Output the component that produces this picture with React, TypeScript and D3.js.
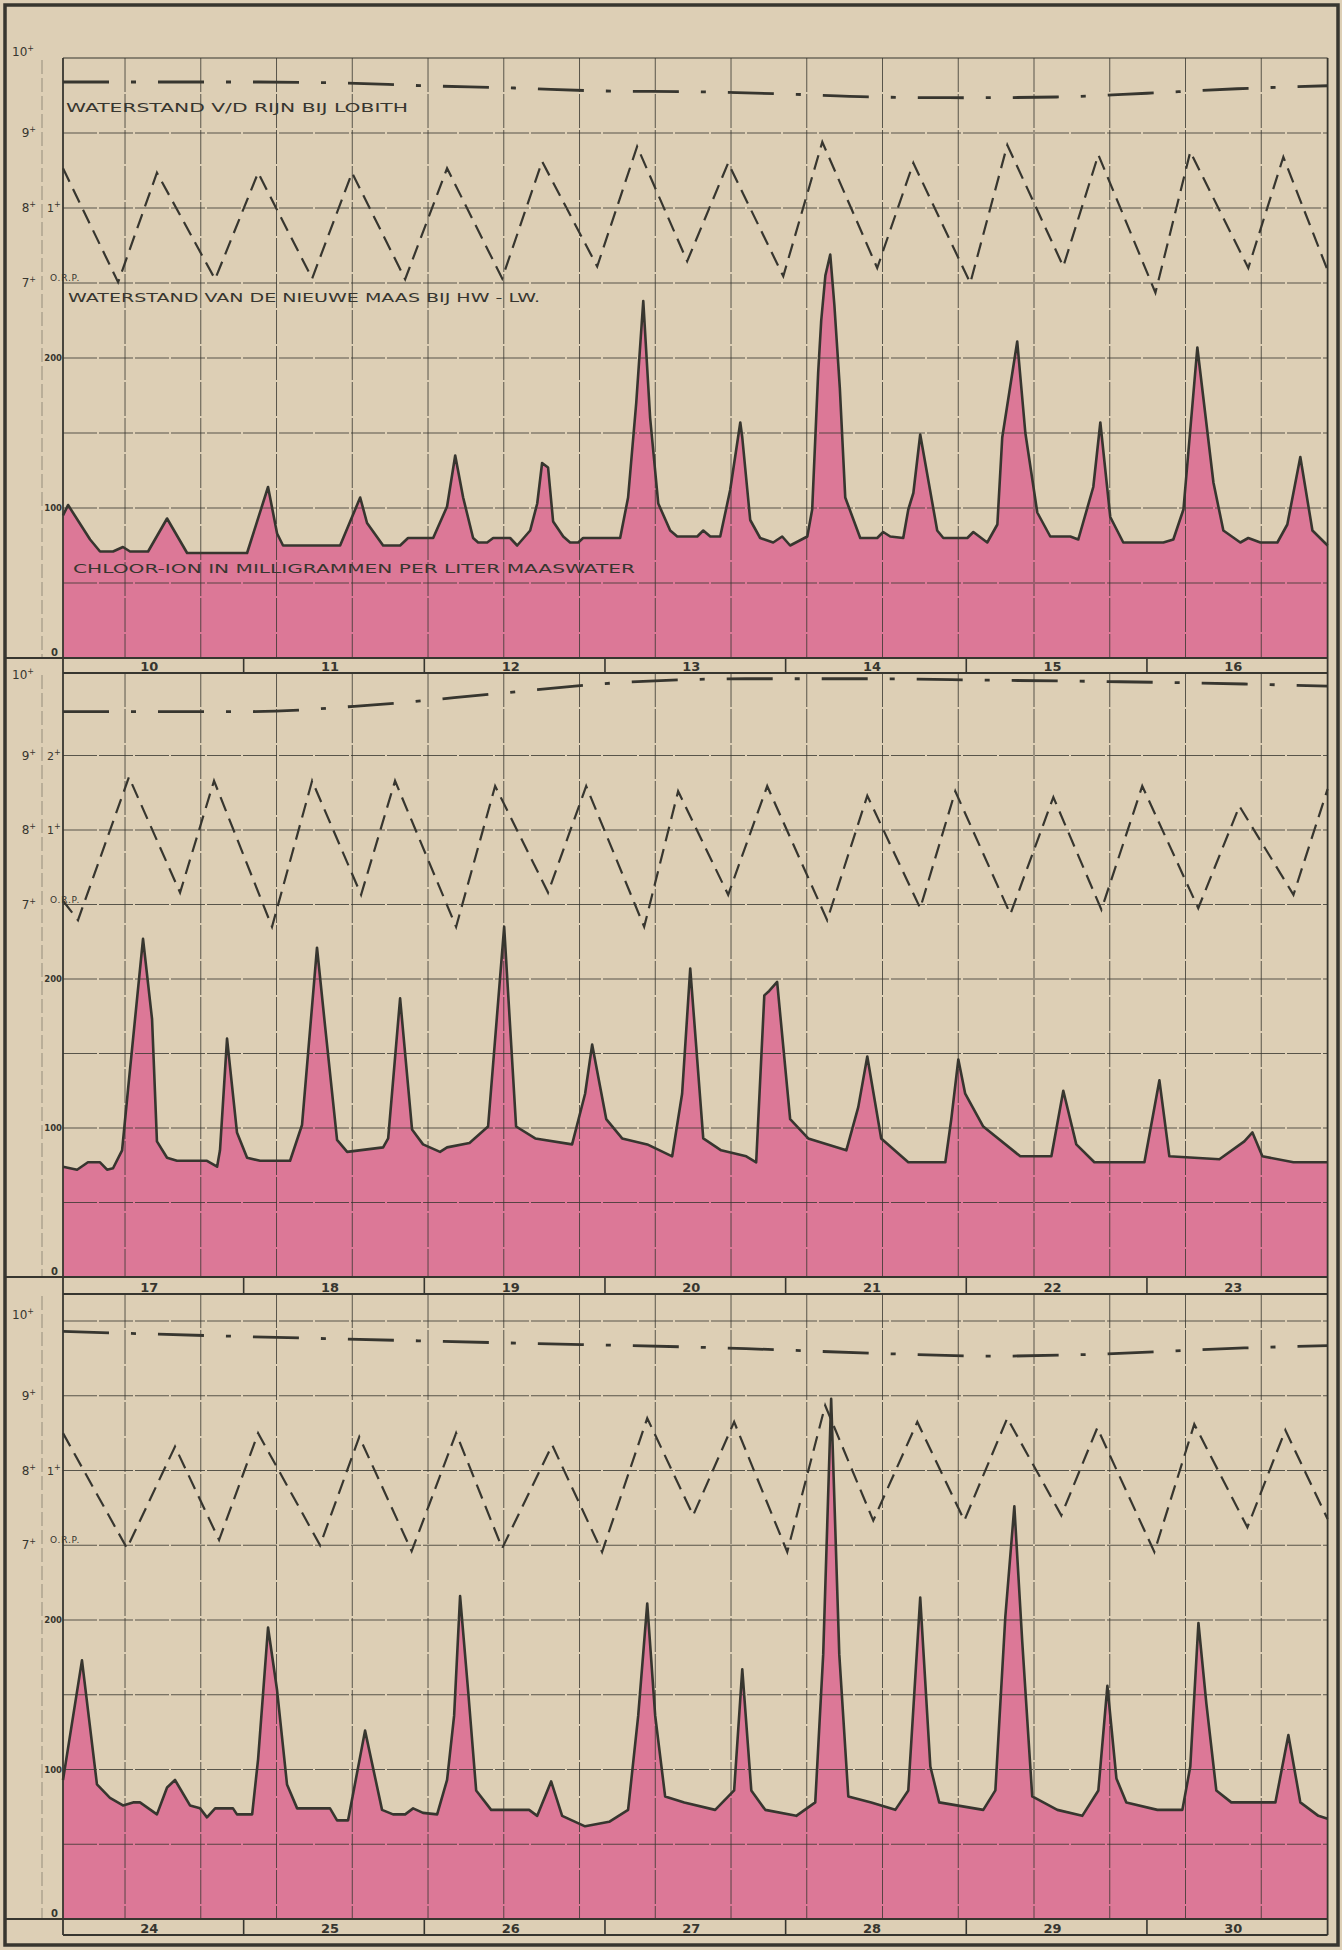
import React from "react";
import * as d3 from "d3";

// ---------- DATA (t = days from start of each panel row) ----------
const startDays = [10, 17, 24];
const chlorTicks = [0, 100, 200];
const levelTicks = [10, 9, 8, 7];
const tideTicks = [[1, 0], [2, 1, 0], [1, 0]];

// Waterstand Rijn bij Lobith (m)
const lobith1: [number, number][] = [[0,9.68],[0.5,9.68],[1,9.68],[1.5,9.67],[2,9.63],[2.5,9.6],[3,9.56],[3.5,9.55],[4,9.52],[4.5,9.48],[5,9.47],[5.5,9.48],[6,9.53],[6.5,9.59],[7,9.63]];
const lobith2: [number, number][] = [[0,9.59],[1.03,9.59],[1.72,9.68],[2.4,9.83],[3.09,9.98],[3.78,10.03],[4.47,10.03],[5.16,10.01],[5.85,9.99],[6.54,9.96],[7,9.93]];
const lobith3: [number, number][] = [[0,9.86],[1.03,9.79],[2.4,9.71],[3.78,9.63],[4.47,9.57],[5.16,9.53],[5.64,9.55],[6.54,9.64],[7,9.67]];

// Waterstand Nieuwe Maas HW-LW (m t.o.v. R.P.)
const tide1: [number, number][] = [[0,1.53],[0.305,0.01],[0.52,1.47],[0.842,0.05],[1.08,1.47],[1.379,0.06],[1.6,1.47],[1.894,0.05],[2.126,1.53],[2.431,0.06],[2.652,1.62],[2.957,0.22],[3.178,1.82],[3.455,0.29],[3.682,1.6],[3.987,0.09],[4.203,1.88],[4.507,0.2],[4.707,1.6],[5.022,0.0],[5.227,1.84],[5.537,0.22],[5.731,1.71],[6.047,-0.13],[6.24,1.75],[6.561,0.2],[6.755,1.68],[7,0.17]];
const tide2: [number, number][] = [[0,0.05],[0.083,-0.21],[0.365,1.71],[0.648,0.16],[0.836,1.66],[1.157,-0.3],[1.379,1.66],[1.65,0.13],[1.838,1.66],[2.176,-0.3],[2.392,1.59],[2.685,0.16],[2.896,1.59],[3.217,-0.3],[3.405,1.52],[3.682,0.13],[3.898,1.59],[4.23,-0.21],[4.452,1.46],[4.745,-0.05],[4.939,1.52],[5.244,-0.13],[5.482,1.44],[5.748,-0.07],[5.974,1.59],[6.284,-0.05],[6.512,1.32],[6.811,0.13],[7,1.55]];
const tide3: [number, number][] = [[0,1.5],[0.354,-0.04],[0.62,1.32],[0.864,0.07],[1.08,1.5],[1.423,0.0],[1.64,1.45],[1.93,-0.08],[2.176,1.5],[2.431,-0.04],[2.708,1.34],[2.984,-0.09],[3.234,1.7],[3.488,0.4],[3.715,1.65],[4.009,-0.09],[4.219,1.87],[4.485,0.33],[4.729,1.65],[4.989,0.33],[5.227,1.7],[5.526,0.4],[5.725,1.57],[6.041,-0.09],[6.262,1.62],[6.556,0.24],[6.766,1.54],[7,0.35]];

// Chloor-ion in mg per liter Maaswater
const chlor1: [number, number][] = [[0,95],[0.028,102],[0.15,79],[0.205,71],[0.277,71],[0.332,74],[0.371,71],[0.471,71],[0.576,93],[0.687,70],[1.019,70],[1.135,114],[1.185,83],[1.218,75],[1.534,75],[1.645,107],[1.683,90],[1.772,75],[1.866,75],[1.91,80],[2.049,80],[2.126,101],[2.171,135],[2.215,107],[2.27,80],[2.298,77],[2.348,77],[2.381,80],[2.475,80],[2.514,75],[2.586,85],[2.625,103],[2.652,130],[2.685,127],[2.713,91],[2.769,81],[2.807,77],[2.852,77],[2.879,80],[3.084,80],[3.128,107],[3.173,170],[3.212,238],[3.25,160],[3.295,103],[3.361,85],[3.4,81],[3.511,81],[3.544,85],[3.583,81],[3.638,81],[3.693,112],[3.749,157],[3.76,147],[3.804,92],[3.859,80],[3.931,77],[3.981,81],[4.025,75],[4.12,81],[4.147,99],[4.18,190],[4.197,225],[4.22,255],[4.247,269],[4.27,235],[4.3,180],[4.33,107],[4.413,80],[4.507,80],[4.54,84],[4.579,81],[4.651,80],[4.679,99],[4.707,110],[4.745,149],[4.839,85],[4.873,80],[5.006,80],[5.039,84],[5.116,77],[5.172,89],[5.199,147],[5.282,211],[5.327,150],[5.393,97],[5.465,81],[5.576,81],[5.62,79],[5.703,114],[5.742,157],[5.797,94],[5.869,77],[6.091,77],[6.146,79],[6.202,99],[6.279,207],[6.368,117],[6.423,85],[6.517,77],[6.561,80],[6.628,77],[6.722,77],[6.777,89],[6.849,134],[6.916,85],[7,75]];
const chlor2: [number, number][] = [[0,74],[0.078,72],[0.138,77],[0.205,77],[0.244,72],[0.277,73],[0.327,85],[0.36,126],[0.443,227],[0.493,173],[0.52,91],[0.576,80],[0.631,78],[0.797,78],[0.853,74],[0.869,85],[0.908,160],[0.963,97],[1.019,80],[1.091,78],[1.257,78],[1.323,102],[1.406,221],[1.451,168],[1.517,92],[1.573,84],[1.772,87],[1.8,93],[1.866,187],[1.932,99],[1.993,89],[2.087,84],[2.126,87],[2.25,90],[2.353,101],[2.442,235],[2.508,101],[2.614,93],[2.818,89],[2.89,123],[2.929,156],[3.007,106],[3.095,93],[3.234,89],[3.372,81],[3.427,123],[3.472,207],[3.544,93],[3.643,85],[3.782,81],[3.837,77],[3.882,189],[3.909,192],[3.953,198],[4.025,106],[4.125,93],[4.336,85],[4.402,114],[4.452,148],[4.529,93],[4.679,77],[4.884,77],[4.917,106],[4.956,146],[4.994,123],[5.094,101],[5.299,81],[5.471,81],[5.537,125],[5.609,89],[5.709,77],[5.986,77],[6.069,132],[6.124,81],[6.401,79],[6.539,91],[6.584,97],[6.639,81],[6.811,77],[7,77]];
const chlor3: [number, number][] = [[0,93],[0.105,173],[0.188,90],[0.26,81],[0.332,76],[0.388,78],[0.426,78],[0.52,70],[0.576,88],[0.62,93],[0.703,76],[0.759,74],[0.797,68],[0.842,74],[0.941,74],[0.963,70],[1.047,70],[1.08,107],[1.135,195],[1.185,153],[1.24,90],[1.296,74],[1.478,74],[1.517,66],[1.578,66],[1.672,126],[1.766,73],[1.827,70],[1.894,70],[1.938,74],[1.993,71],[2.071,70],[2.126,93],[2.165,136],[2.198,216],[2.243,152],[2.287,86],[2.37,73],[2.58,73],[2.625,69],[2.702,92],[2.763,69],[2.89,62],[3.023,65],[3.128,73],[3.184,136],[3.234,211],[3.278,136],[3.333,82],[3.439,78],[3.61,73],[3.715,86],[3.76,167],[3.81,86],[3.887,73],[4.059,69],[4.164,78],[4.208,177],[4.252,348],[4.297,177],[4.347,82],[4.474,78],[4.607,73],[4.679,86],[4.745,215],[4.801,102],[4.85,78],[5.094,73],[5.161,86],[5.216,202],[5.266,276],[5.31,185],[5.365,82],[5.504,73],[5.642,69],[5.731,86],[5.781,156],[5.831,94],[5.886,78],[6.058,73],[6.196,73],[6.24,102],[6.285,198],[6.329,144],[6.384,86],[6.467,78],[6.711,78],[6.783,123],[6.849,78],[6.949,69],[7,67]];

const lobithSeries = [lobith1, lobith2, lobith3];
const tideSeries = [tide1, tide2, tide3];
const chlorSeries = [chlor1, chlor2, chlor3];

// ---------- STYLE / LAYOUT ----------
const INK = "#37362f";
const PAPER = "#ddcfb5";
const PINK = "#dc7897";
const FONT = "'DejaVu Sans', 'Liberation Sans', sans-serif";

const panels = [
  { top: 58, ten: 58, bottom: 658, strip: 673 },
  { top: 673, ten: 681, bottom: 1277, strip: 1294 },
  { top: 1294, ten: 1321, bottom: 1919, strip: 1935 },
];
const LEFT = 63;
const RIGHT = 1327.6;

export default function App() {
  const x = d3.scaleLinear().domain([0, 7]).range([LEFT, RIGHT]);
  const gridDays = d3.range(0.3433, 6.95, 0.4193);

  return (
    <svg width={1342} height={1950} style={{ position: "absolute", left: 0, top: 0, background: PAPER }} fontFamily={FONT}>
      <rect x={0} y={0} width={1342} height={1950} fill={PAPER} />
      {panels.map((p, i) => {
        const cy = d3.scaleLinear().domain([0, 400]).range([p.bottom, p.ten]);
        const ly = d3.scaleLinear().domain([7, 10]).range([cy(250), cy(400)]);
        const ty = d3.scaleLinear().domain([0, 3]).range([cy(250), cy(400)]);
        const area = d3.area<[number, number]>().x(d => x(d[0])).y0(p.bottom).y1(d => cy(d[1]));
        const cline = d3.line<[number, number]>().x(d => x(d[0])).y(d => cy(d[1]));
        const tline = d3.line<[number, number]>().x(d => x(d[0])).y(d => ty(d[1]));
        const lline = d3.line<[number, number]>().x(d => x(d[0])).y(d => ly(d[1])).curve(d3.curveMonotoneX);
        const hGrid = d3.range(50, 401, 50).filter(v => v < 400 || p.ten - p.top > 15);
        const days = d3.range(7).map(k => startDays[i] + k);
        return (
          <g key={i}>
            <path d={area(chlorSeries[i]) || ""} fill={PINK} />
            {hGrid.map(v => (
              <line key={"h" + v} x1={LEFT} x2={RIGHT} y1={cy(v)} y2={cy(v)} stroke={INK} strokeWidth={1} strokeOpacity={0.8} strokeDasharray="34 2" />
            ))}
            {gridDays.map((g, k) => (
              <line key={"v" + k} x1={x(g)} x2={x(g)} y1={p.top} y2={p.bottom} stroke={INK} strokeWidth={1} strokeOpacity={0.8} strokeDasharray="34 2" />
            ))}
            {/* left dashed axis */}
            <line x1={42} x2={42} y1={p.top + 2} y2={p.bottom} stroke={INK} strokeWidth={0.8} strokeOpacity={0.55} strokeDasharray="14 4" />
            <path d={cline(chlorSeries[i]) || ""} fill="none" stroke={INK} strokeWidth={2.6} strokeLinejoin="round" />
            <path d={tline(tideSeries[i]) || ""} fill="none" stroke={INK} strokeWidth={2.2} strokeDasharray="15 8" />
            <path d={lline(lobithSeries[i]) || ""} fill="none" stroke={INK} strokeWidth={2.8} strokeDasharray="46 22 5 22" />
            {/* plot borders */}
            <line x1={LEFT} x2={LEFT} y1={p.top} y2={p.strip} stroke={INK} strokeWidth={1.8} />
            <line x1={RIGHT} x2={RIGHT} y1={p.top} y2={p.strip} stroke={INK} strokeWidth={1.8} />
            {i === 0 && <line x1={LEFT} x2={RIGHT} y1={p.top} y2={p.top} stroke={INK} strokeWidth={1.2} />}
            {/* strip with day numbers */}
            <line x1={5} x2={RIGHT} y1={p.bottom} y2={p.bottom} stroke={INK} strokeWidth={2} />
            <line x1={LEFT} x2={RIGHT} y1={p.strip} y2={p.strip} stroke={INK} strokeWidth={2} />
            {d3.range(1, 7).map(k => (
              <line key={"t" + k} x1={x(k)} x2={x(k)} y1={p.bottom} y2={p.strip} stroke={INK} strokeWidth={1.6} />
            ))}
            {days.map((d, k) => (
              <text key={"d" + d} x={x(k + 0.5) - 4} y={p.strip - 2} textAnchor="middle" fontSize={13} fontWeight="bold" fill={INK} textLength={String(d).length * 9} lengthAdjust="spacingAndGlyphs">{d}</text>
            ))}
            {/* left labels: Lobith levels */}
            {levelTicks.map(v => (
              <text key={"l" + v} x={v === 10 ? 34 : 36} y={ly(v) + (v === 10 ? -2 : 4)} textAnchor="end" fontSize={12} fill={INK}>
                {v}<tspan fontSize={8} dy={-5}>+</tspan>
              </text>
            ))}
            {/* Nieuwe Maas levels */}
            {tideTicks[i].map(v => v === 0 ? (
              <text key={"r" + v} x={50} y={ty(0) - 2} fontSize={9} fill={INK} letterSpacing={0.8}>O.R.P.</text>
            ) : (
              <text key={"r" + v} x={47} y={ty(v) + 4} fontSize={11} fill={INK}>
                {v}<tspan fontSize={8} dy={-5}>+</tspan>
              </text>
            ))}
            {/* chloride ticks */}
            {chlorTicks.map(v => (
              <text key={"c" + v} x={v === 0 ? 58 : 62} y={cy(v) + (v === 0 ? -2 : 3)} textAnchor="end" fontSize={v === 0 ? 10 : 8.5} fontWeight="bold" fill={INK}>{v}</text>
            ))}
            {i === 0 && (
              <g fill={INK} fontSize={13}>
                <text x={66} y={112} textLength={342} lengthAdjust="spacingAndGlyphs">WATERSTAND V/D RIJN BIJ LOBITH</text>
                <text x={68} y={302} textLength={472} lengthAdjust="spacingAndGlyphs">WATERSTAND VAN DE NIEUWE MAAS BIJ HW - LW.</text>
                <text x={73} y={573} textLength={562} lengthAdjust="spacingAndGlyphs">CHLOOR-ION  IN MILLIGRAMMEN PER LITER MAASWATER</text>
              </g>
            )}
          </g>
        );
      })}
      {/* outer frame */}
      <rect x={5} y={5} width={1333} height={1940} fill="none" stroke={INK} strokeWidth={3.5} />
    </svg>
  );
}
